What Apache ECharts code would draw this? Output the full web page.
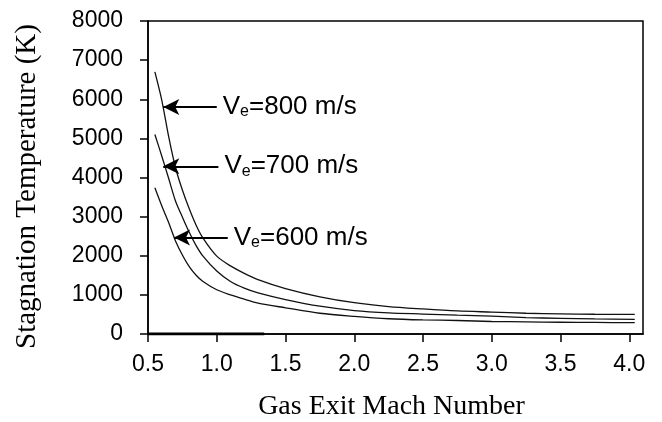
<!DOCTYPE html>
<html style="height:100%">
<head>
    <meta charset="utf-8">
    <title>Stagnation Temperature</title>
    <script src="https://cdn.jsdelivr.net/npm/echarts@6/dist/echarts.min.js"></script>
</head>
<body style="height:100%;margin:0;background:#fff">
    <div id="main" style="width:662px;height:422px;"></div>
    <script type="text/javascript">
        var myChart = echarts.init(document.getElementById('main'));

        // gas exit Mach number
        var mach = [0.55, 0.6, 0.65, 0.7, 0.75, 0.8, 0.85, 0.9, 1.0, 1.1, 1.2, 1.3, 1.5, 1.75, 2.0, 2.25, 2.5, 2.75, 3.0, 3.25, 3.5, 3.75, 4.04];
        // stagnation temperature (K) for each exit velocity
        var t800 = [6700, 5980, 5050, 4250, 3680, 3200, 2780, 2450, 1990, 1740, 1550, 1390, 1160, 950, 800, 700, 640, 590, 560, 530, 515, 505, 500];
        var t700 = [5100, 4550, 3980, 3400, 2990, 2600, 2260, 1990, 1610, 1340, 1170, 1050, 880, 710, 600, 540, 510, 480, 455, 420, 400, 385, 375];
        var t600 = [3740, 3280, 2850, 2380, 2020, 1720, 1500, 1340, 1130, 1000, 890, 790, 670, 530, 450, 390, 360, 345, 320, 310, 300, 295, 290];
        // short heavy trace lying on the zero line
        var zeroTrace = [[0.5, 0], [1.345, 0]];

        var xTicks = [0.5, 1.0, 1.5, 2.0, 2.5, 3.0, 3.5, 4.0];

        // arrow annotations: [tipMach, tailMach, temperature, velocity]
        var arrow800 = [0.611, 1.0, 5800, '800'];
        var arrow700 = [0.611, 1.012, 4286, '700'];
        var arrow600 = [0.689, 1.08, 2467, '600'];

        function pairs(ys) {
            return mach.map(function (m, i) { return [m, ys[i]]; });
        }

        function arrowMark(a) {
            return {
                silent: true,
                symbolSize: [12, 16],
                lineStyle: { color: '#000', width: 2.2, type: 'solid' },
                label: {
                    show: true,
                    position: 'end',
                    distance: 6,
                    color: '#000',
                    fontFamily: 'Liberation Sans',
                    fontSize: 26,
                    formatter: 'V{e|e}=' + a[3] + ' m/s',
                    rich: {
                        e: { fontSize: 16, verticalAlign: 'bottom', fontFamily: 'Liberation Sans', color: '#000' }
                    }
                },
                data: [[
                    { coord: [a[0], a[2]], symbol: 'arrow' },
                    { coord: [a[1], a[2]], symbol: 'none' }
                ]]
            };
        }

        function curve(name, ys, a) {
            return {
                name: name,
                type: 'line',
                smooth: 0.3,
                showSymbol: false,
                silent: true,
                lineStyle: { color: '#111', width: 1.3 },
                data: pairs(ys),
                markLine: arrowMark(a)
            };
        }

        option = {
            animation: false,
            backgroundColor: '#fff',
            grid: {
                left: 148,
                right: 19,
                top: 21,
                bottom: 88,
                outerBoundsMode: 'none',
                containLabel: false,
                show: true,
                borderColor: '#000',
                borderWidth: 1.5
            },
            xAxis: {
                type: 'value',
                min: 0.5,
                max: 4.1,
                name: 'Gas Exit Mach Number',
                nameLocation: 'middle',
                nameGap: 59,
                nameTextStyle: { color: '#000', fontFamily: 'Liberation Serif', fontSize: 28, padding: [0, 8, 0, 0] },
                axisLine: { onZero: false, lineStyle: { color: '#000', width: 1.5 } },
                axisTick: { show: true, length: 8, customValues: xTicks, lineStyle: { color: '#000', width: 1.5 } },
                axisLabel: {
                    customValues: xTicks,
                    margin: 19,
                    color: '#000',
                    fontFamily: 'Liberation Sans',
                    fontSize: 23,
                    formatter: function (v) { return v.toFixed(1); }
                },
                splitLine: { show: false }
            },
            yAxis: {
                type: 'value',
                min: 0,
                max: 8000,
                interval: 1000,
                name: 'Stagnation Temperature (K)',
                nameLocation: 'middle',
                nameGap: 106,
                nameTextStyle: { color: '#000', fontFamily: 'Liberation Serif', fontSize: 29, padding: [0, 18, 0, 0] },
                axisLine: { show: true, lineStyle: { color: '#000', width: 1.5 } },
                axisTick: { show: true, length: 8, lineStyle: { color: '#000', width: 1.5 } },
                axisLabel: {
                    margin: 25,
                    color: '#000',
                    fontFamily: 'Liberation Sans',
                    fontSize: 23,
                    formatter: function (v) { return String(v); }
                },
                splitLine: { show: false }
            },
            series: [
                curve('Ve=800 m/s', t800, arrow800),
                curve('Ve=700 m/s', t700, arrow700),
                curve('Ve=600 m/s', t600, arrow600),
                {
                    name: 'zero',
                    type: 'line',
                    showSymbol: false,
                    silent: true,
                    lineStyle: { color: '#000', width: 3 },
                    data: zeroTrace
                }
            ]
        };

        myChart.setOption(option);
    </script>
</body>
</html>
